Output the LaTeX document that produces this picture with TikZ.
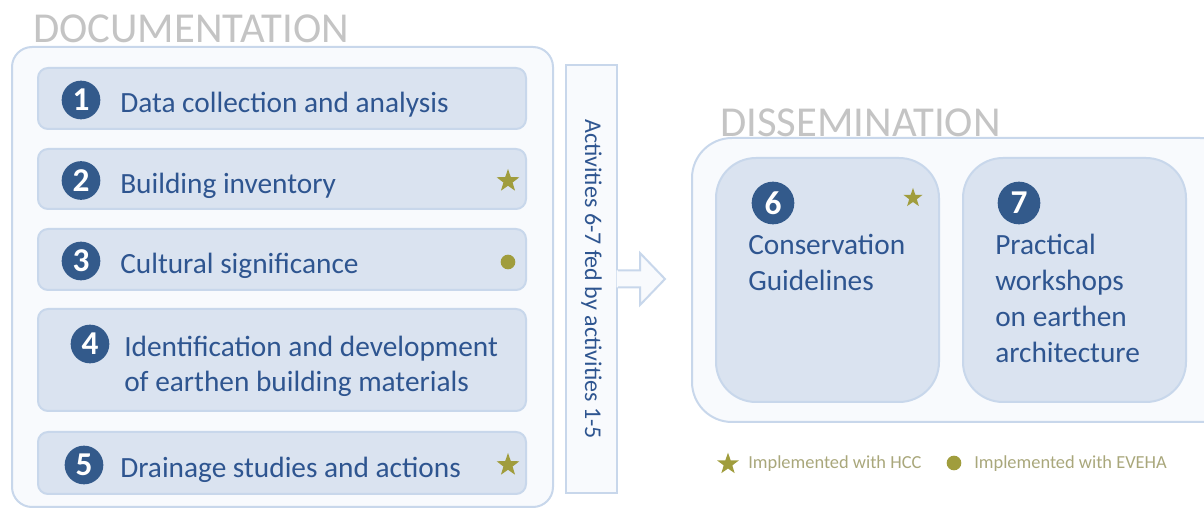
\documentclass[tikz,border=0pt]{standalone}
\usepackage{fontspec}
\setmainfont{Carlito}
\usetikzlibrary{shapes.geometric, positioning, calc}

\definecolor{darkblue}{HTML}{2E5590}
\definecolor{numblue}{HTML}{335A8B}
\definecolor{boxfill}{HTML}{DAE3F0}
\definecolor{boxline}{HTML}{C8D7EB}
\definecolor{panelfill}{HTML}{F8FAFD}
\definecolor{titlegray}{HTML}{C4C4C4}
\definecolor{olive}{HTML}{A09D3D}
\definecolor{keygray}{HTML}{A9A77B}

\begin{document}
\begin{tikzpicture}[
  x=0.75pt, y=-0.75pt,
  panel/.style={draw=boxline, fill=panelfill, line width=1.5pt},
  item/.style={draw=boxline, fill=boxfill, line width=1.5pt,
    rounded corners=7.5pt, minimum width=366pt, inner sep=0pt},
  num/.style={circle, fill=numblue, text=white, inner sep=0pt,
    minimum size=29pt, font=\fontsize{25}{25}\selectfont\bfseries}]

\tikzset{itemtext/.style={text=darkblue, inner sep=0pt, align=left,
    font=\fontsize{22}{26.25}\selectfont},
  hcc/.style={star, star points=5, star point ratio=2.5, fill=olive,
    inner sep=0pt, minimum size=18pt},
  eveha/.style={circle, fill=olive, inner sep=0pt, minimum size=11pt},
  heading/.style={text=titlegray, inner sep=0pt, font=\fontsize{32}{32}\selectfont},
  keytext/.style={text=keygray, inner sep=0pt, font=\fontsize{13.8}{13.8}\selectfont}}

  \clip (0,0) rectangle (1204,509);

  % documentation
  \draw[panel, rounded corners=15pt] (12,47) rectangle (553,507);
  \node[heading, anchor=base west] (doctitle) at (33,43) {DOCUMENTATION};

  \node[item, minimum height=45.75pt] (item1) at (282,98.5) {};
  \node[item, minimum height=45pt] (item2) at (282,179) {};
  \node[item, minimum height=45.75pt] (item3) at (282,259.5) {};
  \node[item, minimum height=76.5pt] (item4) at (282,360) {};
  \node[item, minimum height=46.5pt] (item5) at (282,463) {};

  \node[num] (n1) at (81,100) {1};
  \node[num] (n2) at (81,180.5) {2};
  \node[num] (n3) at (81,261) {3};
  \node[num] (n4) at (90,344) {4};
  \node[num] (n5) at (84,465) {5};

  \node[itemtext, anchor=base west] (t1) at (120,113) {Data collection and analysis};
  \node[itemtext, anchor=base west] (t2) at (120,193.5) {Building inventory};
  \node[itemtext, anchor=base west] (t3) at (120,274) {Cultural significance};
  \node[itemtext, anchor=west] (t4) at (124,366)
    {Identification and development\\of earthen building materials};
  \node[itemtext, anchor=base west] (t5) at (120,477.5) {Drainage studies and actions};

  \node[hcc] (s2) at (508,181) {};
  \node[eveha] (d3) at (508,262) {};
  \node[hcc] (s5) at (508,465) {};

  % link
  \node[panel, rotate=-90, minimum width=321pt, minimum height=38.25pt,
    text=darkblue, font=\fontsize{18}{18}\selectfont] (bar) at (591.5,279)
    {Activities 6-7 fed by activities 1-5};
  \fill[panelfill] ($(bar.north)+(-1.5,-8.5)$) -- ++(23.5,0) -- ++(0,-17.5)
    -- ++(25,26) -- ++(-25,26) -- ++(0,-17.5) -- ++(-23.5,0) -- cycle;
  \draw[boxline, line width=1.5pt] ($(bar.north)+(0,-8.5)$) -- ++(22,0)
    -- ++(0,-17.5) -- ++(25,26) -- ++(-25,26) -- ++(0,-17.5) -- ++(-22,0);

  % dissemination
  \draw[panel, rounded corners=30pt] (692,138) rectangle (1240,422);
  \node[heading, anchor=base west] (distitle) at (720,137) {DISSEMINATION};

  \node[item, rounded corners=30pt, minimum width=167.25pt, minimum height=183pt]
    (item6) at (827.5,280) {};
  \node[item, rounded corners=30pt, minimum width=167.25pt, minimum height=183pt]
    (item7) at (1074.5,280) {};

  \node[num, minimum size=32pt] (n6) at (773,203) {6};
  \node[num, minimum size=32pt] (n7) at (1019,203) {7};
  \node[hcc, minimum size=15pt] (s6) at (913,198) {};

  \node[itemtext, anchor=west, font=\fontsize{22}{27}\selectfont] (t6) at (748,262)
    {Conservation\\Guidelines};
  \node[itemtext, anchor=west, font=\fontsize{22}{27}\selectfont] (t7) at (995,298)
    {Practical\\workshops\\on earthen\\architecture};

  % key
  \node[hcc, minimum size=17pt] (keystar) at (728,464) {};
  \node[keytext, anchor=west] (keyhcc) at (748,464) {Implemented with HCC};
  \node[eveha] (keydot) at (954,463) {};
  \node[keytext, anchor=west] (keyeveha) at (974,464) {Implemented with EVEHA};
\end{tikzpicture}
\end{document}
